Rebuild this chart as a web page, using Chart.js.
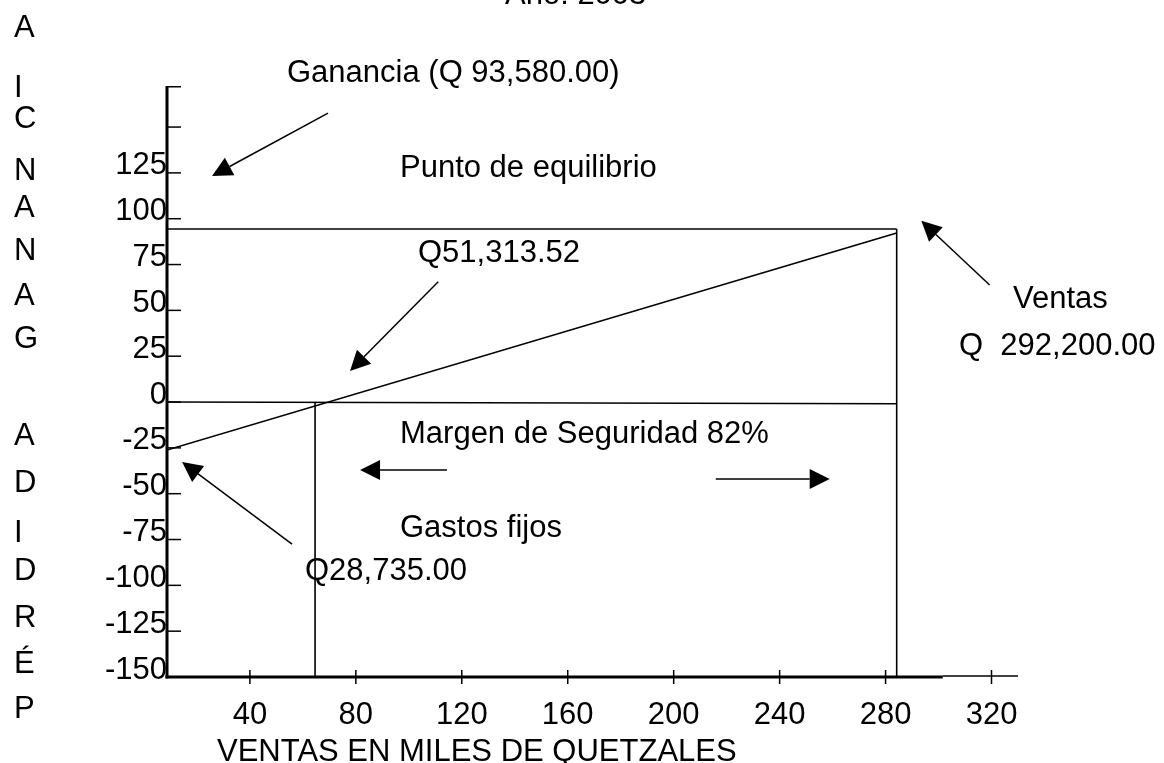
<!DOCTYPE html>
<html>
<head>
<meta charset="utf-8">
<script src="https://cdn.jsdelivr.net/npm/chart.js@4"></script>
<style>
html,body{margin:0;padding:0;background:#fff;overflow:hidden}
canvas{display:block}
</style>
</head>
<body>
<canvas id="c" width="1164" height="763"></canvas>
<script>
// ---------------- data (thousands of quetzales) ----------------
const xTickLabels = ['40','80','120','160','200','240','280','320'];
const yTickLabels = ['-150','-125','-100','-75','-50','-25','0','25','50','75','100','125'];
const yExtraTickMarks = [150];          // mark without a label

const ventasLineX   = [8.7, 284.2];     // sales / result line
const ventasLineY   = [-26.2, 92.2];
const gananciaLineX = [8.7, 284.2];     // profit level
const gananciaLineY = [94.4, 94.4];
const ceroLineX     = [8.7, 284.2];     // zero line
const ceroLineY     = [0, -0.9];
const ventasTotalX  = [284.2, 284.2];   // total sales vertical
const ventasTotalY  = [94.4, -150];
const equilibrioX   = [64.6, 64.6];     // break-even vertical
const equilibrioY   = [0, -150];

// annotation arrows (tail -> head), in data units
const arrowTails = [[69.5,157.6],[319.3,63.8],[111.1,65.6],[55.9,-77.5],[114.4,-37.1],[215.9,-42.0]];
const arrowHeads = [[25.7,123.3],[293.5,98.9],[77.8,16.9],[14.4,-32.7],[81.6,-37.1],[258.9,-42.0]];

// texts
const annotationTexts = ['Año: 2003','Ganancia (Q 93,580.00)','Punto de equilibrio','Q51,313.52','Ventas',
  'Q  292,200.00','Margen de Seguridad 82%','Gastos fijos','Q28,735.00','VENTAS EN MILES DE QUETZALES'];
const sideLetters = ['A','I','C','N','A','N','A','G','A','D','I','D','R','É','P'];

// ---------------- layout (pixels) ----------------
const textPos = [[505,4],[287,82],[400,177],[418,262],[1013,308],[959,355],[400,443],[400,537],[305,580],[217,761]];
const sideBaselines = [37,97,128,180,217,260,305,348,445,492,542,580,627,673,718];
const FONT_FAMILY = '"Liberation Sans", Arial, Helvetica, sans-serif';
const FONT_SIZE = 31;
const xAxisThickEnd = 301.6;

function pts(xs, ys){ return xs.map((x,i)=>({x:x, y:ys[i]})); }
function seg(ctx,x1,y1,x2,y2){ ctx.beginPath(); ctx.moveTo(x1,y1); ctx.lineTo(x2,y2); ctx.stroke(); }
function arrow(ctx,x1,y1,x2,y2){
  const L=20, W=10;
  const a=Math.atan2(y2-y1,x2-x1);
  const bx=x2-L*Math.cos(a), by=y2-L*Math.sin(a);
  ctx.lineWidth=1.5;
  seg(ctx,x1,y1,bx,by);
  ctx.beginPath();
  ctx.moveTo(x2,y2);
  ctx.lineTo(bx+W*Math.sin(a), by-W*Math.cos(a));
  ctx.lineTo(bx-W*Math.sin(a), by+W*Math.cos(a));
  ctx.closePath(); ctx.fill();
}

const decor = {
  id:'decor',
  beforeDraw(chart){
    const ctx=chart.ctx; ctx.save(); ctx.fillStyle='#fff'; ctx.fillRect(0,0,chart.width,chart.height); ctx.restore();
  },
  afterDatasetsDraw(chart){
    const {ctx, chartArea:a, scales:{x,y}} = chart;
    ctx.save();
    ctx.strokeStyle='#000'; ctx.fillStyle='#000'; ctx.lineCap='butt';
    // axes
    ctx.lineWidth=3;
    seg(ctx,a.left,a.top,a.left,a.bottom+1.5);
    const xe=x.getPixelForValue(xAxisThickEnd);
    seg(ctx,a.left-1.5,a.bottom,xe,a.bottom);
    ctx.lineWidth=1.5;
    seg(ctx,xe,a.bottom-1,a.right,a.bottom-1);
    // inner y tick marks
    y.ticks.forEach(t=>{ const py=y.getPixelForValue(t.value); seg(ctx,a.left,py,a.left+14,py); });
    seg(ctx,a.left,a.top+0.75,a.left+14,a.top+0.75);
    // crossing x tick marks
    x.ticks.forEach(t=>{ const px=x.getPixelForValue(t.value); seg(ctx,px,a.bottom-7,px,a.bottom+7); });
    // arrows
    arrowTails.forEach((t,i)=>{
      const h=arrowHeads[i];
      arrow(ctx,x.getPixelForValue(t[0]),y.getPixelForValue(t[1]),x.getPixelForValue(h[0]),y.getPixelForValue(h[1]));
    });
    // texts
    ctx.font = FONT_SIZE+'px '+FONT_FAMILY;
    ctx.textAlign='left'; ctx.textBaseline='alphabetic';
    annotationTexts.forEach((s,i)=>ctx.fillText(s,textPos[i][0],textPos[i][1]));
    sideLetters.forEach((s,i)=>ctx.fillText(s,14,sideBaselines[i]));
    ctx.restore();
  }
};

const lineStyle = {showLine:true, borderColor:'#000', borderWidth:1.6, pointRadius:0, fill:false, tension:0};

new Chart(document.getElementById('c'), {
  type:'scatter',
  data:{ datasets:[
    Object.assign({label:'Ventas', data:pts(ventasLineX,ventasLineY)}, lineStyle),
    Object.assign({label:'Ganancia', data:pts(gananciaLineX,gananciaLineY)}, lineStyle),
    Object.assign({label:'Cero', data:pts(ceroLineX,ceroLineY)}, lineStyle),
    Object.assign({label:'Ventas totales', data:pts(ventasTotalX,ventasTotalY)}, lineStyle),
    Object.assign({label:'Punto de equilibrio', data:pts(equilibrioX,equilibrioY)}, lineStyle)
  ]},
  options:{
    responsive:false, animation:false,
    layout:{padding:{top:86,right:146,left:0,bottom:0}},
    plugins:{legend:{display:false}, tooltip:{enabled:false}, title:{display:false}},
    scales:{
      x:{ type:'linear', min:8.7, max:330,
          grid:{display:false, drawTicks:false}, border:{display:false},
          afterBuildTicks:s=>{ s.ticks = xTickLabels.map(v=>({value:Number(v)})); },
          afterFit:s=>{ s.height=86; },
          ticks:{ autoSkip:false, maxRotation:0, minRotation:0,
                  padding:20, color:'#000', font:{family:FONT_FAMILY, size:FONT_SIZE},
                  callback:v=> xTickLabels.includes(String(v)) ? String(v) : '' } },
      y:{ type:'linear', min:-150, max:172.4,
          grid:{display:false, drawTicks:false}, border:{display:false},
          afterBuildTicks:s=>{ s.ticks = yTickLabels.map(Number).concat(yExtraTickMarks).map(v=>({value:v})); },
          afterFit:s=>{ s.width=167; },
          ticks:{ autoSkip:false, padding:0, labelOffset:-7,
                  color:'#000', font:{family:FONT_FAMILY, size:FONT_SIZE},
                  callback:v=> yTickLabels.includes(String(v)) ? String(v) : '' } }
    }
  },
  plugins:[decor]
});
</script>
</body>
</html>
